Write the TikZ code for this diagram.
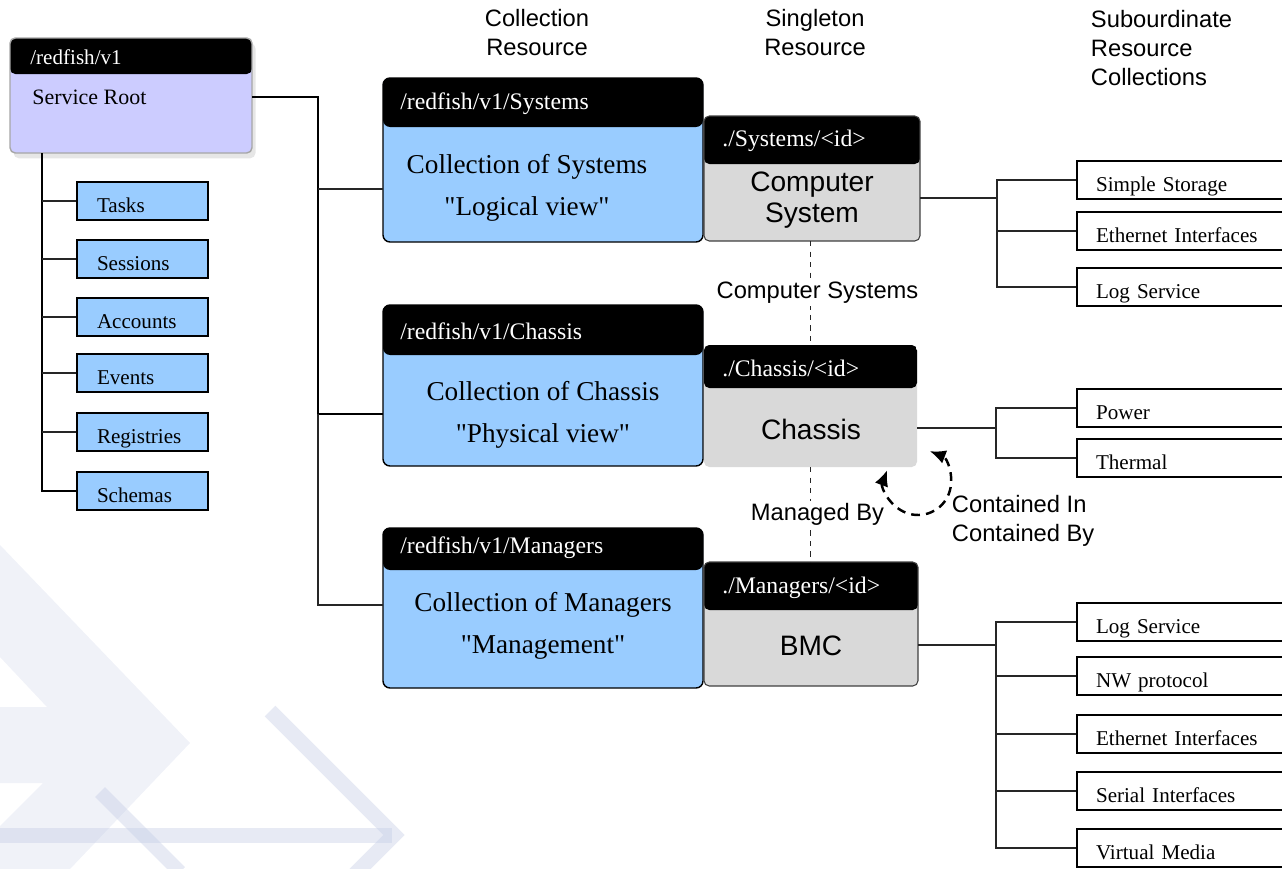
\documentclass[tikz,border=0pt]{standalone}
\usepackage{fontspec}
\setmainfont{Liberation Serif}
\setsansfont{Liberation Sans}
\usetikzlibrary{positioning,shadows,arrows.meta}
\definecolor{rootblue}{HTML}{CCCCFF}
\definecolor{collblue}{HTML}{99CCFF}
\definecolor{sngrey}{HTML}{D9D9D9}
\definecolor{wmark}{HTML}{C2CBE4}
\begin{document}
\begin{tikzpicture}[x=0.02cm,y=-0.02cm,
    boxsize/.style 2 args={minimum width=#1*0.02cm,minimum height=#2*0.02cm},
    hdrbox/.style={inner sep=0pt,outer sep=0pt,path picture={\fill[black] (path picture bounding box.north west) rectangle ([yshift=-#1*0.02cm]path picture bounding box.north east);}},
    rootbox/.style={hdrbox=#1,draw=black!35,line width=0.8pt,fill=rootblue,rounded corners=3pt,drop shadow={opacity=0.2,shadow xshift=2pt,shadow yshift=-3pt}},
    collbox/.style={hdrbox=#1,draw=black,line width=0.8pt,fill=collblue,rounded corners=4pt},
    sngbox/.style={hdrbox=#1,draw=black!75,line width=0.6pt,fill=sngrey,rounded corners=3pt},
    hdrtext/.style={text=white,anchor=west,inner sep=0pt,font=\fontsize{13.5}{16}\selectfont},
    colltext/.style={align=center,inner sep=0pt,font=\fontsize{15.5}{24}\selectfont},
    sngtext/.style={align=center,inner sep=0pt,font=\sffamily\fontsize{16}{17.5}\selectfont},
    lbl/.style={inner sep=1.5pt,text=black,font=\sffamily\fontsize{13.5}{16.5}\selectfont},
    leaf/.style={draw=black,line width=0.9pt,fill=collblue,boxsize={131}{38},inner xsep=0.4cm,inner ysep=0pt,text width=1.82cm,align=left,text height=16pt,text depth=3pt,font=\fontsize{12}{14}\selectfont},
    subleaf/.style={draw=black,line width=1pt,fill=white,boxsize={213}{38},inner xsep=0.38cm,inner ysep=0pt,text width=3.5cm,align=left,text height=16pt,text depth=3pt,font=\fontsize{12}{14}\selectfont},
    wire/.style={line width=0.6pt,black!85},
    boldwire/.style={line width=1.3pt,black}]
    \useasboundingbox (0,0) rectangle (1282,869);
    \clip (0,0) rectangle (1282,869);

    \fill[wmark,opacity=0.25] (0,545) -- (190,743) -- (70,869) -- (0,869) -- (0,826) -- (43,783) -- (0,783) -- (0,707) -- (47,707) -- (0,657) -- cycle;
    \draw[wmark,opacity=0.4,line width=0.3cm] (0,835) -- (392,835);
    \draw[wmark,opacity=0.4,line width=0.3cm] (270,711) -- (394,835) -- (355,874);
    \draw[wmark,opacity=0.4,line width=0.28cm] (100,792) -- (180,872);

    \node[lbl,align=center] (collhead) at (537,33) {Collection\\Resource};
    \node[lbl,align=center] (snghead) at (815,33) {Singleton\\Resource};
    \node[lbl,align=left,anchor=west] (subhead) at (1088,48) {Subourdinate\\Resource\\Collections};

    \node[rootbox=36,boxsize={242}{115}] (root) at (131,95.5) {};
    \node[hdrtext,font=\fontsize{12}{14}\selectfont] (roothdr) at (30,57) {/redfish/v1};
    \node[anchor=west,inner sep=0pt,font=\fontsize{12.5}{15}\selectfont] (roottxt) at (32,97) {Service Root};

    \node[leaf] (tasks) at (142.5,201) {Tasks};
    \node[leaf] (sessions) at (142.5,259) {Sessions};
    \node[leaf] (accounts) at (142.5,317) {Accounts};
    \node[leaf] (events) at (142.5,373) {Events};
    \node[leaf] (registries) at (142.5,432) {Registries};
    \node[leaf] (schemas) at (142.5,491) {Schemas};

    \node[collbox=49,boxsize={320}{164}] (syscoll) at (543,160) {};
    \node[hdrtext] (syscollhdr) at (400,104) {/redfish/v1/Systems};
    \node[colltext] (syscolltxt) at (527,188) {Collection of Systems\\\textquotedbl Logical view\textquotedbl};

    \node[collbox=50,boxsize={320}{161}] (chcoll) at (543,385.5) {};
    \node[hdrtext] (chcollhdr) at (400,331) {/redfish/v1/Chassis};
    \node[colltext] (chcolltxt) at (543,415) {Collection of Chassis\\\textquotedbl Physical view\textquotedbl};

    \node[collbox=42,boxsize={320}{160}] (mgrcoll) at (543,608) {};
    \node[hdrtext] (mgrcollhdr) at (400,548) {/redfish/v1/Managers};
    \node[colltext] (mgrcolltxt) at (543,626) {Collection of Managers\\\textquotedbl Management\textquotedbl};

    \node[sngbox=48,boxsize={216}{125}] (syssng) at (812,178.5) {};
    \node[hdrtext] (syssnghdr) at (722,141) {./Systems/<id>};
    \node[sngtext] (syssngtxt) at (812,200) {Computer\\System};

    \node[sngbox=43,boxsize={213}{122},draw=none] (chsng) at (810.5,406) {};
    \node[hdrtext] (chsnghdr) at (722,368) {./Chassis/<id>};
    \node[sngtext] (chsngtxt) at (811,429) {Chassis};

    \node[sngbox=48,boxsize={214}{124}] (mgrsng) at (811,624) {};
    \node[hdrtext] (mgrsnghdr) at (722,588) {./Managers/<id>};
    \node[sngtext] (mgrsngtxt) at (811,646) {BMC};

    \node[subleaf] (stor) at (1183.5,180) {Simple Storage};
    \node[subleaf] (seth) at (1183.5,231) {Ethernet Interfaces};
    \node[subleaf] (slog) at (1183.5,287) {Log Service};
    \node[subleaf] (power) at (1183.5,408) {Power};
    \node[subleaf] (thermal) at (1183.5,458) {Thermal};
    \node[subleaf] (mlog) at (1183.5,622) {Log Service};
    \node[subleaf] (nwproto) at (1183.5,676) {NW protocol};
    \node[subleaf] (meth) at (1183.5,734) {Ethernet Interfaces};
    \node[subleaf] (serial) at (1183.5,791) {Serial Interfaces};
    \node[subleaf] (vmedia) at (1183.5,848) {Virtual Media};

    \coordinate (ltrunk) at (42,491);
    \draw[boldwire,line width=1pt] (root.south -| ltrunk) -- (ltrunk) -- (schemas.west);
    \draw[wire] (tasks.west) -- (tasks.west -| ltrunk);
    \draw[wire] (sessions.west) -- (sessions.west -| ltrunk);
    \draw[wire] (accounts.west) -- (accounts.west -| ltrunk);
    \draw[wire] (events.west) -- (events.west -| ltrunk);
    \draw[wire] (registries.west) -- (registries.west -| ltrunk);

    \coordinate (ctrunk) at (318,605);
    \draw[boldwire] (root.east |- 0,97) -| (ctrunk |- 0,414) -- (chcoll.west |- 0,414);
    \draw[wire] (ctrunk |- 0,414) -- (ctrunk) -- (mgrcoll.west |- ctrunk);
    \draw[wire] (ctrunk |- 0,189) -- (syscoll.west |- 0,189);

    \coordinate (strunk) at (997,198);
    \draw[wire] (syssng.east |- strunk) -- (strunk);
    \draw[wire] (stor.west) -| (strunk |- slog.west) -- (slog.west);
    \draw[wire] (seth.west) -- (seth.west -| strunk);

    \coordinate (chtrunk) at (996,428);
    \draw[wire] (chsng.east |- chtrunk) -- (chtrunk);
    \draw[wire] (power.west) -| (chtrunk |- thermal.west) -- (thermal.west);

    \coordinate (mtrunk) at (996,645);
    \draw[wire] (mgrsng.east |- mtrunk) -- (mtrunk);
    \draw[wire] (mlog.west) -| (mtrunk |- vmedia.west) -- (vmedia.west);
    \draw[wire] (nwproto.west) -- (nwproto.west -| mtrunk);
    \draw[wire] (meth.west) -- (meth.west -| mtrunk);
    \draw[wire] (serial.west) -- (serial.west -| mtrunk);

    \draw[wire,dashed] (chsng.north |- syssng.south) -- node[lbl,fill=white,xshift=0.14cm] (cslabel) {Computer Systems} (chsng.north);
    \draw[wire,dashed] (chsng.south) -- node[lbl,fill=white,xshift=0.14cm] (mblabel) {Managed By} (chsng.south |- mgrsng.north);

    \coordinate (loopc) at (918,482);
    \draw[line width=1.4pt,dash pattern=on 5pt off 3.5pt,{Latex[length=9pt,width=8pt]}-{Latex[length=9pt,width=8pt]}] ([shift={(201:33)}]loopc) arc[start angle=201,end angle=-69,radius=33];
    \node[lbl,align=left,anchor=west] (contlabel) at (949,521) {Contained In\\Contained By};
\end{tikzpicture}
\end{document}
